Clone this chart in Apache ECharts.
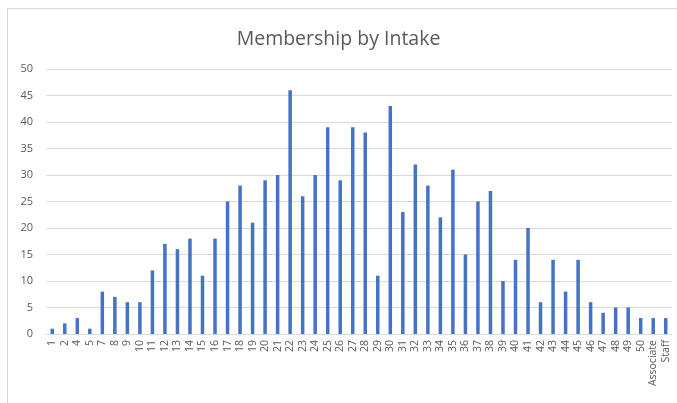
<!DOCTYPE html>
<html>
<head>
<meta charset="utf-8">
<script src="https://cdn.jsdelivr.net/npm/echarts@6/dist/echarts.min.js"></script>
<style>
html,body{margin:0;padding:0;background:#fff;overflow:hidden;width:677px;height:403px;}
#frame{position:absolute;left:7px;top:8px;width:670px;height:395px;border-left:1px solid #d9d9d9;border-top:1px solid #d9d9d9;box-sizing:border-box;}
#chart{position:absolute;left:0;top:0;width:677px;height:403px;}
</style>
</head>
<body>
<div id="frame"></div>
<div id="chart"></div>
<script>
const categories = ['1','2','4','5','7','8','9','10','11','12','13','14','15','16','17','18','19','20','21','22','23','24','25','26','27','28','29','30','31','32','33','34','35','36','37','38','39','40','41','42','43','44','45','46','47','48','49','50','Associate','Staff'];
const members = [1,2,3,1,8,7,6,6,12,17,16,18,11,18,25,28,21,29,30,46,26,30,39,29,39,38,11,43,23,32,28,22,31,15,25,27,10,14,20,6,14,8,14,6,4,5,5,3,3,3];
const yTicks = {min:0, max:50, interval:5};

const chart = echarts.init(document.getElementById('chart'), null, {renderer:'canvas'});
chart.setOption({
  animation:false,
  title:{text:'Membership by Intake', left:'center', top:24,
    textStyle:{fontFamily:'Open Sans', fontSize:19.5, fontWeight:'normal', color:'#595959'}},
  grid:{left:46, right:5, top:69, bottom:69, containLabel:false},
  xAxis:{type:'category', data:categories,
    axisLine:{lineStyle:{color:'#d9d9d9'}}, axisTick:{show:false},
    axisLabel:{interval:0, rotate:90, fontFamily:'Open Sans', fontSize:10.5, color:'#595959', margin:6}},
  yAxis:{type:'value', min:yTicks.min, max:yTicks.max, interval:yTicks.interval,
    axisLine:{show:false}, axisTick:{show:false},
    splitLine:{lineStyle:{color:'#d9d9d9'}},
    axisLabel:{fontFamily:'Open Sans', fontSize:11, color:'#595959', margin:13}},
  series:[{type:'bar', data:members, barWidth:3.5, itemStyle:{color:'#4472C4'}}]
});
</script>
</body>
</html>
